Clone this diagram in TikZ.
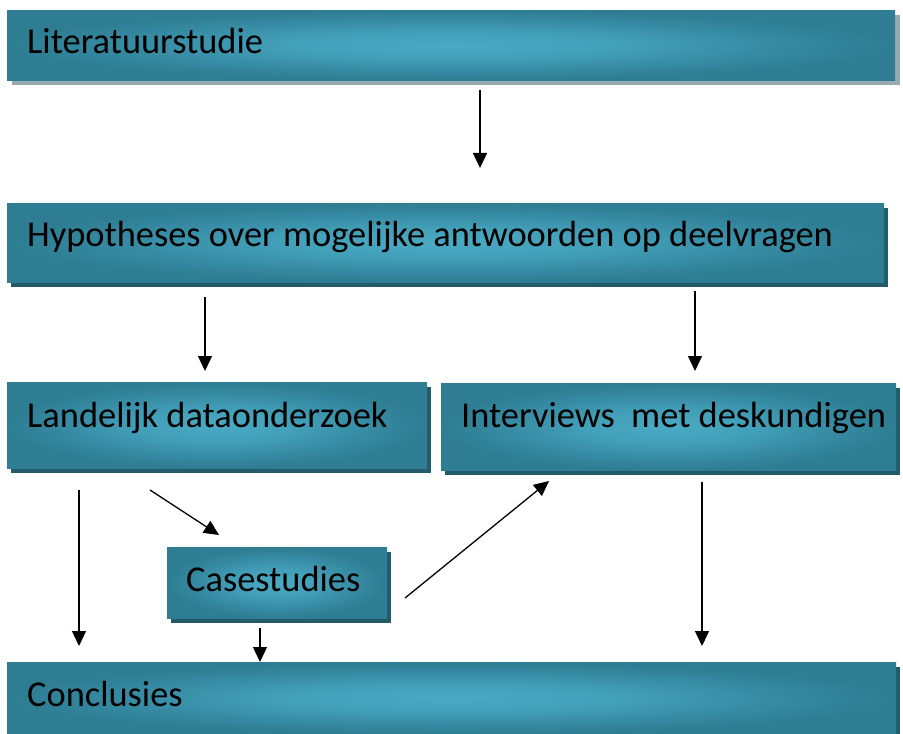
\documentclass[tikz,border=0pt]{standalone}
\usepackage{fontspec}
\setmainfont{Carlito}
\usetikzlibrary{arrows.meta,shadows}
\definecolor{tlight}{HTML}{4AA9C3}
\definecolor{tlight2}{HTML}{43A0B9}
\definecolor{tmid}{HTML}{3589A1}
\definecolor{tdark}{HTML}{2E7D92}
\definecolor{tshadow}{HTML}{245B6A}
\definecolor{gshadow}{HTML}{97AAAE}
\pgfdeclareradialshading{boxshade}{\pgfpoint{0bp}{0bp}}{color(0bp)=(tlight); color(9bp)=(tlight2); color(19bp)=(tmid); color(25bp)=(tdark); color(50bp)=(tdark)}
\tikzset{
  box/.style={shading=boxshade, draw=none, anchor=north west, inner sep=0pt},
  dsh/.style={drop shadow={shadow xshift=4bp, shadow yshift=-5bp, fill=tshadow, opacity=1}},
  gsh/.style={drop shadow={shadow xshift=5bp, shadow yshift=-5bp, fill=gshadow, opacity=1}},
  lbl/.style={anchor=base west, inner sep=0pt, font=\fontsize{36.4bp}{42bp}\selectfont, text=black},
  arr/.style={line width=1.3bp, -{Triangle[length=15bp,width=14bp]}}
}
\begin{document}
\begin{tikzpicture}[x=1bp,y=-1bp]
\useasboundingbox (0,0) rectangle (903,734);
% boxes
\node[box,gsh,minimum width=888bp,minimum height=70bp] (lit) at (7,10) {};
\node[box,dsh,minimum width=877bp,minimum height=79bp] (hyp) at (7,203) {};
\node[box,dsh,minimum width=420bp,minimum height=86bp] (lan) at (7,382) {};
\node[box,dsh,minimum width=455bp,minimum height=87bp] (int) at (441,383) {};
\node[box,dsh,minimum width=220bp,minimum height=71bp] (cas) at (167,547) {};
\node[box,dsh,minimum width=889bp,minimum height=72bp] (con) at (7,662) {};
% labels
\node[lbl] (litT) at (27,54) {Literatuurstudie};
\node[lbl] (hypT) at (27,246) {Hypotheses over mogelijke antwoorden op deelvragen};
\node[lbl] (lanT) at (27,427) {Landelijk dataonderzoek};
\node[lbl] (intT) at (461,427) {Interviews~ met deskundigen};
\node[lbl] (casT) at (186,591) {Casestudies};
\node[lbl] (conT) at (27,706) {Conclusies};
% arrow end points
\coordinate (a1s) at (480,90);  \coordinate (a1e) at (480,168);
\coordinate (a2s) at (205,297); \coordinate (a2e) at (205,371);
\coordinate (a3s) at (695,291); \coordinate (a3e) at (695,371);
\coordinate (a4s) at (79,490);  \coordinate (a4e) at (79,646);
\coordinate (a5s) at (150,490); \coordinate (a5e) at (219,535);
\coordinate (a6s) at (405,598); \coordinate (a6e) at (549,481);
\coordinate (a7s) at (260,628); \coordinate (a7e) at (260,662);
\coordinate (a8s) at (702,482); \coordinate (a8e) at (702,646);
\draw[arr] (a1s) -- (a1e);
\draw[arr] (a2s) -- (a2e);
\draw[arr] (a3s) -- (a3e);
\draw[arr] (a4s) -- (a4e);
\draw[arr] (a5s) -- (a5e);
\draw[arr] (a6s) -- (a6e);
\draw[arr] (a7s) -- (a7e);
\draw[arr] (a8s) -- (a8e);
\end{tikzpicture}
\end{document}
